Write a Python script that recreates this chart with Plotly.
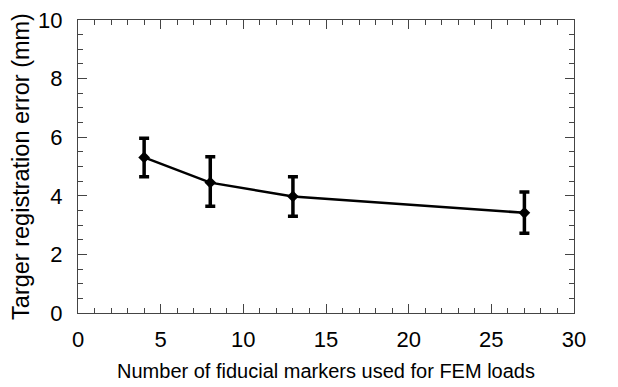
import plotly.graph_objects as go

markers = [4, 8, 13, 27]
tre = [5.31, 4.45, 3.98, 3.42]
err_plus = [0.65, 0.88, 0.67, 0.71]
err_minus = [0.66, 0.81, 0.68, 0.70]

x_ticks = [0, 5, 10, 15, 20, 25, 30]
y_ticks = [0, 2, 4, 6, 8, 10]

FONT = "Liberation Sans, Arial, Helvetica, sans-serif"

fig = go.Figure()
fig.add_trace(go.Scatter(
    x=markers, y=tre, mode="lines+markers",
    line=dict(color="black", width=2.5),
    marker=dict(symbol="diamond", size=9, color="black"),
    error_y=dict(type="data", symmetric=False, array=err_plus, arrayminus=err_minus,
                 color="black", thickness=3.5, width=5),
    showlegend=False,
))

axis_common = dict(
    showgrid=False, zeroline=False, showline=True, linecolor="#444", linewidth=1,
    mirror="ticks", ticks="inside", ticklen=9, tickwidth=1, tickcolor="#444",
    tickfont=dict(family=FONT, size=22, color="black"),
    ticklabeloverflow="allow", automargin=False,
)

fig.update_xaxes(
    range=[0, 30], tickvals=x_ticks, ticktext=[str(v) for v in x_ticks],
    minor=dict(dtick=1, ticks="inside", ticklen=5, tickcolor="#444", tickwidth=1),
    ticklabelstandoff=7,
    title=dict(text="Number of fiducial markers used for FEM loads",
               font=dict(family=FONT, size=20, color="black"), standoff=12),
    **axis_common,
)
fig.update_yaxes(
    range=[0, 10], tickvals=y_ticks, ticktext=[str(v) for v in y_ticks],
    minor=dict(dtick=0.5, ticks="inside", ticklen=5, tickcolor="#444", tickwidth=1),
    ticklabelstandoff=10,
    title=dict(text="Targer registration error (mm)",
               font=dict(family=FONT, size=23.5, color="black"), standoff=5),
    **axis_common,
)

fig.update_layout(
    width=618, height=387,
    margin=dict(l=70, r=52, t=12, b=82),
    paper_bgcolor="white", plot_bgcolor="white",
    font=dict(family=FONT, color="black"),
)

fig.write_html("out.html")
